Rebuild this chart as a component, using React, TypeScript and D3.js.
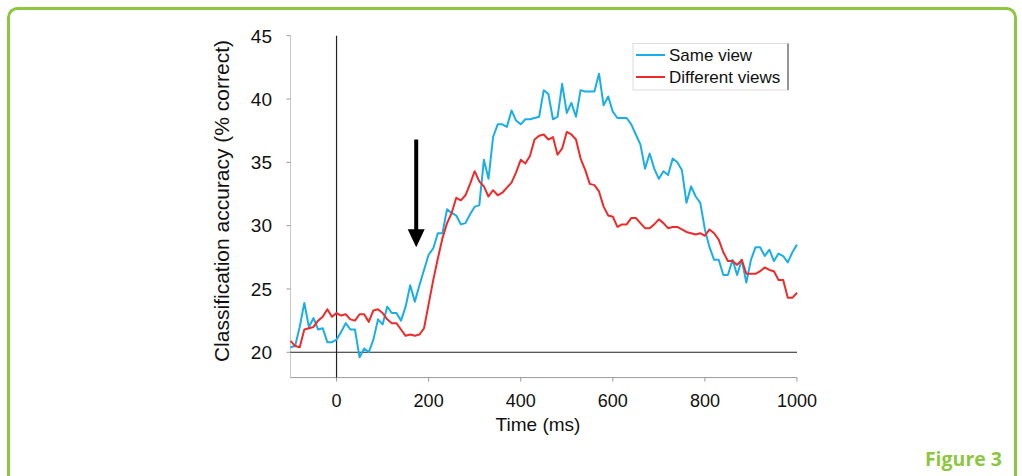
import React from "react";
import * as d3 from "d3";

const times = [
  -100, -90, -80, -70, -60, -50, -40, -30, -20, -10,
  0, 10, 20, 30, 40, 50, 60, 70, 80, 90,
  100, 110, 120, 130, 140, 150, 160, 170, 180, 190,
  200, 210, 220, 230, 240, 250, 260, 270, 280, 290,
  300, 310, 320, 330, 340, 350, 360, 370, 380, 390,
  400, 410, 420, 430, 440, 450, 460, 470, 480, 490,
  500, 510, 520, 530, 540, 550, 560, 570, 580, 590,
  600, 610, 620, 630, 640, 650, 660, 670, 680, 690,
  700, 710, 720, 730, 740, 750, 760, 770, 780, 790,
  800, 810, 820, 830, 840, 850, 860, 870, 880, 890,
  900, 910, 920, 930, 940, 950, 960, 970, 980, 990,
  1000,
];

const sameView = [
  20.4, 20.5, 22.0, 23.9, 22.0, 22.7, 21.8, 21.9, 20.8, 20.8,
  21.0, 21.6, 22.3, 21.8, 21.8, 19.6, 20.3, 20.0, 21.0, 22.6,
  22.2, 23.6, 23.1, 23.1, 22.5, 23.6, 25.3, 24.0, 25.3, 26.5,
  27.7, 28.2, 29.4, 29.4, 31.3, 31.0, 30.8, 30.1, 30.2, 30.9,
  31.5, 31.6, 35.2, 33.7, 37.0, 38.0, 38.0, 37.8, 39.1, 38.3,
  38.0, 38.4, 38.4, 38.5, 38.6, 40.7, 40.4, 38.4, 38.6, 41.2,
  38.9, 39.7, 38.6, 40.7, 40.6, 40.6, 40.6, 42.0, 39.5, 40.2,
  39.0, 38.5, 38.5, 38.5, 38.0, 37.2, 36.4, 34.5, 35.7, 34.5,
  33.7, 34.3, 34.0, 35.3, 35.0, 34.4, 31.8, 33.1, 32.3, 31.8,
  29.7, 28.3, 27.3, 27.3, 26.1, 26.1, 27.3, 26.1, 27.3, 25.5,
  27.3, 28.3, 28.3, 27.6, 28.1, 27.2, 27.8, 27.6, 27.1, 27.9,
  28.5,
];

const differentViews = [
  20.9, 20.5, 20.4, 21.8, 21.9, 22.0, 22.5, 22.8, 23.4, 22.8,
  23.1, 22.9, 23.0, 22.6, 22.5, 23.0, 23.0, 22.4, 23.3, 23.4,
  23.1, 22.6, 22.3, 22.3, 21.8, 21.3, 21.4, 21.3, 21.4, 21.9,
  23.8, 25.7, 27.4, 29.0, 30.2, 31.0, 32.2, 32.0, 32.4, 33.3,
  34.3, 33.5, 33.1, 32.3, 32.8, 32.4, 32.6, 33.0, 33.4, 34.2,
  35.2, 34.9, 35.5, 36.8, 37.1, 37.2, 36.8, 37.0, 35.6, 36.1,
  37.4, 37.2, 36.8, 35.3, 34.4, 33.3, 33.2, 32.7, 31.5, 30.8,
  30.7, 29.9, 30.1, 30.1, 30.6, 30.6, 30.2, 29.8, 29.8, 30.1,
  30.5, 30.2, 29.8, 29.9, 29.9, 29.7, 29.5, 29.4, 29.3, 29.4,
  29.2, 29.7, 29.4, 28.9, 27.9, 27.2, 27.2, 26.9, 27.3, 26.2,
  26.2, 26.2, 26.4, 26.7, 26.5, 26.4, 25.7, 25.7, 24.3, 24.3,
  24.7,
];

const xTicks = [0, 200, 400, 600, 800, 1000];
const yTicks = [20, 25, 30, 35, 40, 45];
const seriesNames = ["Same view", "Different views"];
const seriesColors = ["#1aaee8", "#ee2b2b"];
const chanceLevel = 20;
const arrowTime = 173;
const arrowTop = 36.8;
const arrowTip = 28.3;

export default function App() {
  const W = 1022;
  const H = 476;
  const x = d3.scaleLinear().domain([-100, 1000]).range([290.5, 797]);
  const y = d3.scaleLinear().domain([18, 45]).range([377.6, 35.7]);
  const line = d3
    .line<number>()
    .x((_, i) => x(times[i]))
    .y((d) => y(d));
  const font = "'Liberation Sans', Arial, Helvetica, sans-serif";
  const series = [sameView, differentViews];
  const ax = x(arrowTime);
  const headH = 18;
  const headW = 8.5;

  return (
    <svg
      width={W}
      height={H}
      style={{ position: "absolute", left: 0, top: 0, background: "#fff" }}
    >
      <rect x={0} y={0} width={W} height={H} fill="#fff" />
      {/* green frame */}
      <rect
        x={8.5}
        y={8.5}
        width={1007}
        height={H + 20}
        rx={9}
        ry={9}
        fill="none"
        stroke="#8dc63f"
        strokeWidth={3}
      />
      <text
        x={1002}
        y={466}
        textAnchor="end"
        fontFamily="'Open Sans', Lato, sans-serif"
        fontWeight={700}
        fontSize={19.5}
        fill="#8dc63f"
      >
        Figure 3
      </text>

      {/* axes spines */}
      <line x1={x(-100)} x2={x(-100)} y1={y(45)} y2={y(18)} stroke="#c8c8c8" strokeWidth={1} />
      <line x1={x(-100)} x2={x(1000)} y1={y(18)} y2={y(18)} stroke="#9a9a9a" strokeWidth={1} />
      {yTicks.map((t) => (
        <g key={"y" + t}>
          <line x1={x(-100) - 4} x2={x(-100)} y1={y(t)} y2={y(t)} stroke="#9a9a9a" strokeWidth={1} />
          <text
            x={272}
            y={y(t)}
            dy="0.36em"
            textAnchor="end"
            fontFamily={font}
            fontSize={19}
            fill="#111"
          >
            {t}
          </text>
        </g>
      ))}
      {xTicks.map((t) => (
        <g key={"x" + t}>
          <line x1={x(t)} x2={x(t)} y1={y(18)} y2={y(18) + 4} stroke="#9a9a9a" strokeWidth={1} />
          <text
            x={x(t)}
            y={407}
            textAnchor="middle"
            fontFamily={font}
            fontSize={18}
            fill="#111"
          >
            {t}
          </text>
        </g>
      ))}
      <text
        x={538}
        y={431}
        textAnchor="middle"
        fontFamily={font}
        fontSize={19}
        fill="#111"
      >
        Time (ms)
      </text>
      <text
        transform={`translate(229, 201) rotate(-90)`}
        textAnchor="middle"
        fontFamily={font}
        fontSize={21}
        fill="#111"
      >
        Classification accuracy (% correct)
      </text>

      {/* reference lines */}
      <line x1={x(-100)} x2={x(1000)} y1={y(chanceLevel)} y2={y(chanceLevel)} stroke="#222" strokeWidth={1.2} />
      <line x1={x(0)} x2={x(0)} y1={y(45)} y2={y(18)} stroke="#222" strokeWidth={1.2} />

      {/* series */}
      {series.map((s, i) => (
        <path
          key={seriesNames[i]}
          d={line(s) || ""}
          fill="none"
          stroke={seriesColors[i]}
          strokeWidth={2}
          strokeLinejoin="round"
        />
      ))}

      {/* arrow */}
      <line x1={ax} x2={ax} y1={y(arrowTop)} y2={y(arrowTip) - headH + 1} stroke="#000" strokeWidth={4} />
      <path
        d={`M${ax - headW},${y(arrowTip) - headH} L${ax + headW},${y(arrowTip) - headH} L${ax},${y(arrowTip)} Z`}
        fill="#000"
      />

      {/* legend */}
      <rect x={633} y={43.5} width={155} height={46.5} fill="#fff" stroke="#dcdcdc" strokeWidth={1} />
      <line x1={788} x2={788} y1={43.5} y2={90} stroke="#777" strokeWidth={1.5} />
      {seriesNames.map((n, i) => (
        <g key={"lg" + n}>
          <line x1={636} x2={665} y1={55 + i * 22} y2={55 + i * 22} stroke={seriesColors[i]} strokeWidth={2} />
          <text
            x={669}
            y={55 + i * 22}
            dy="0.36em"
            fontFamily={font}
            fontSize={17}
            fill="#111"
          >
            {n}
          </text>
        </g>
      ))}
    </svg>
  );
}
